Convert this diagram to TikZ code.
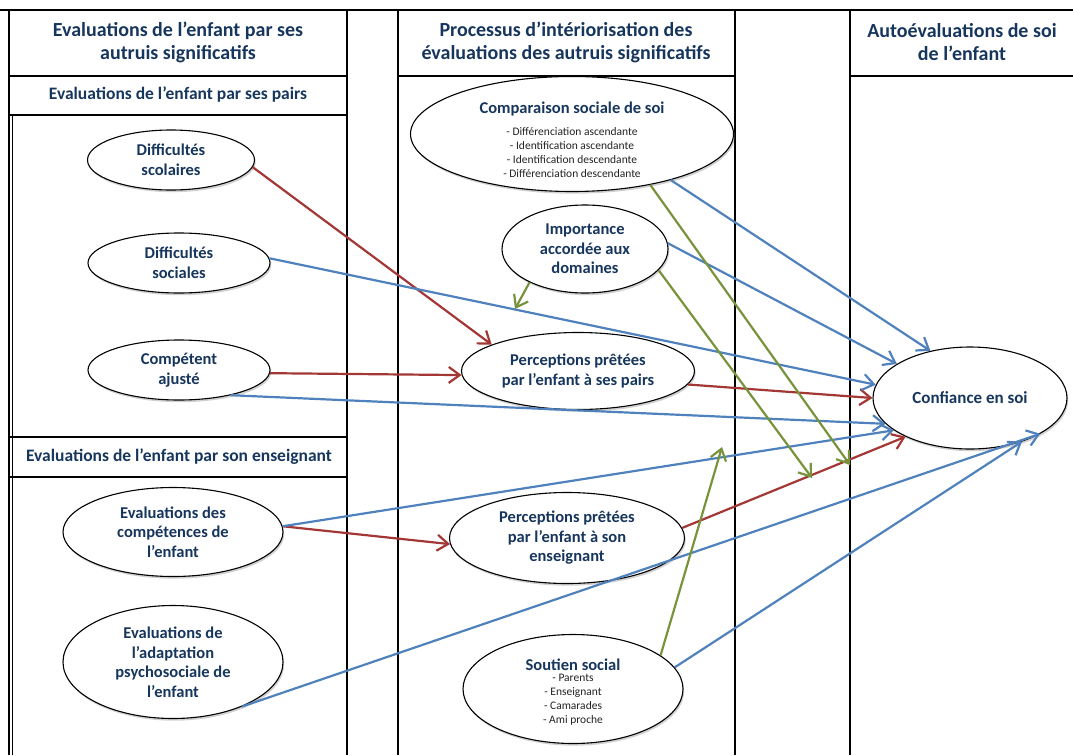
\documentclass[tikz,border=0pt]{standalone}
\usepackage{fontspec}
\setmainfont{Carlito}
\usetikzlibrary{shapes.geometric,arrows.meta,shadows}
\definecolor{navy}{RGB}{23,54,93}
\definecolor{arrred}{RGB}{163,55,53}
\definecolor{arrblue}{RGB}{79,129,189}
\definecolor{arrgreen}{RGB}{119,147,60}
\definecolor{itemgray}{RGB}{35,35,35}
\newcommand\itemfnt{\mdseries\fontsize{11.5}{14}\selectfont\color{itemgray}}
\tikzset{
  frameline/.style={line width=1.3pt, black},
  topline/.style={line width=2.6pt, black},
  ell/.style={ellipse, draw, line width=1.1pt, fill=white, inner sep=0pt, align=center,
    font=\bfseries\fontsize{16.5}{19.5}\selectfont, text=navy,
    drop shadow={shadow xshift=1.2pt, shadow yshift=-2.2pt, fill=black!40, opacity=0.45}},
  elltext/.style={align=center, inner sep=0pt, font=\bfseries\fontsize{16.5}{19.5}\selectfont, text=navy},
  hdr/.style={align=center, font=\bfseries\fontsize{20}{23}\selectfont, text=navy},
  subhdr/.style={font=\bfseries\fontsize{17.5}{20}\selectfont, text=navy},
  conn/.style={line width=2.2pt, -{Straight Barb[length=11pt,width=16pt]}},
  rarr/.style={conn, draw=arrred},
  barr/.style={conn, draw=arrblue},
  garr/.style={conn, draw=arrgreen}
}
\begin{document}
\begin{tikzpicture}[x=1pt,y=-1pt]
\useasboundingbox (0,0) rectangle (1073,755);
% ---------- frame ----------
\draw[topline] (0,10) -- (1073,10);
\draw[line width=2.4pt] (9,10) -- (9,755);
\draw[frameline, line width=0.9pt] (12.5,115) -- (12.5,755);
\draw[frameline] (347,10) -- (347,755);
\draw[frameline] (398,10) -- (398,755);
\draw[frameline] (735,10) -- (735,755);
\draw[frameline] (850,10) -- (850,755);
\draw[frameline] (9,76) -- (347,76);
\draw[frameline] (9,115) -- (347,115);
\draw[frameline] (9,437) -- (347,437);
\draw[frameline] (9,477) -- (347,477);
\draw[frameline] (398,76) -- (735,76);
\draw[frameline] (850,76) -- (1073,76);
% ---------- headers ----------
\node[hdr] (h1) at (178,42) {Evaluations de l’enfant par ses\\autruis significatifs};
\node[subhdr] (h1a) at (178,95) {Evaluations de l’enfant par ses pairs};
\node[subhdr] (h1b) at (179,457) {Evaluations de l’enfant par son enseignant};
\node[hdr] (h2) at (566,42) {Processus d’intériorisation des\\évaluations des autruis significatifs};
\node[hdr] (h3) at (962,42) {Autoévaluations de soi\\de l’enfant};
% ---------- ellipses ----------
\node[ell, minimum width=167pt, minimum height=60pt] (ds) at (171,160) {Difficultés\\scolaires};
\node[ell, minimum width=182pt, minimum height=60pt] (dso) at (179,263) {Difficultés\\sociales};
\node[ell, minimum width=182pt, minimum height=60pt] (ca) at (179,370) {Compétent\\ajusté};
\node[ell, minimum width=220pt, minimum height=89pt] (ec) at (173,532) {Evaluations des\\compétences de\\l’enfant};
\node[ell, minimum width=220pt, minimum height=113pt] (ea) at (173,662) {Evaluations de\\l’adaptation\\psychosociale de\\l’enfant};
\node[ell, minimum width=323pt, minimum height=115pt] (cs) at (572,134) {};
\node[elltext] (cs-t) at ([yshift=-8pt]cs.center) {Comparaison sociale de soi\\[8pt]{\itemfnt\begin{tabular}{@{}c@{}}- Différenciation ascendante\\- Identification ascendante\\- Identification descendante\\- Différenciation descendante\end{tabular}}};
\node[ell, minimum width=166pt, minimum height=88pt] (imp) at (585,249) {Importance\\accordée aux\\domaines};
\node[ell, minimum width=233pt, minimum height=77pt] (pp) at (578,371) {Perceptions prêtées\\par l’enfant à ses pairs};
\node[ell, minimum width=235pt, minimum height=91pt] (pe) at (567,538) {Perceptions prêtées\\par l’enfant à son\\enseignant};
\node[ell, minimum width=220pt, minimum height=109pt] (ss) at (573,689) {};
\node[elltext] (ss-t) at ([yshift=-4pt]ss.center) {Soutien social\\{\itemfnt\begin{tabular}{@{}c@{}}- Parents\\- Enseignant\\- Camarades\\- Ami proche\end{tabular}}};
\node[ell, minimum width=194pt, minimum height=102pt, font=\bfseries\fontsize{17}{20}\selectfont] (cf) at (970,398) {Confiance en soi};
% ---------- free ends of moderating arrows ----------
\coordinate (g1) at (515,309);
\coordinate (g2) at (850,465);
\coordinate (g3) at (812,478);
\coordinate (g4) at (722,447);
% ---------- red connectors ----------
\draw[rarr] (ds.-5) -- (pp.163);
\draw[rarr] (ca.-2) -- (pp.182);
\draw[rarr] (pp.-7) -- (cf.180);
\draw[rarr] (ec.3) -- (pe.183);
\draw[rarr] (pe.5) -- (cf.211);
% ---------- blue connectors ----------
\draw[barr] (dso.3) -- (cf.172);
\draw[barr] (ca.-26) -- (cf.197);
\draw[barr] (ec.3) -- (cf.203);
\draw[barr] (ea.-33) -- (cf.-27);
\draw[barr] (ss.12) -- (cf.-40);
\draw[barr] (cs.-25) -- (cf.130);
\draw[barr] (imp.4) -- (cf.155);
% ---------- green connectors ----------
\draw[garr] (imp.211) -- (g1);
\draw[garr] (cs.-33) -- (g2);
\draw[garr] (imp.-16) -- (g3);
\draw[garr] (ss.21) -- (g4);
\end{tikzpicture}
\end{document}
